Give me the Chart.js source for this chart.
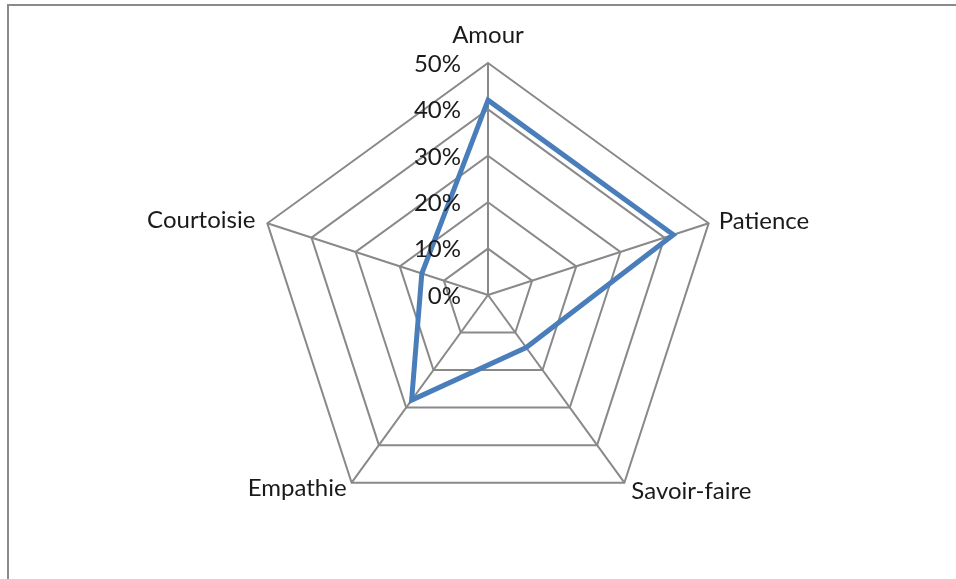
<!DOCTYPE html>
<html>
<head>
<meta charset="utf-8">
<script src="https://cdn.jsdelivr.net/npm/chart.js@4"></script>
<style>
  html,body{margin:0;padding:0;background:#fff;overflow:hidden}
  #frame{position:absolute;left:7px;top:4px;width:1200px;height:900px;border:2px solid #8a8a8a;box-sizing:border-box}
  #wrap{position:absolute;left:0;top:0;width:956px;height:579px}
</style>
</head>
<body>
<div id="frame"></div>
<div id="wrap"><canvas id="c"></canvas></div>
<script>
/* ============ data ============ */
const labels=['Amour','Patience','Savoir-faire','Empathie','Courtoisie'];
const values=[42,42,14,28,15];
const ticks=[0,10,20,30,40,50];

const C={line:'#4a7ebb',grid:'#898989',ink:'#1a1a1a'};
const FONT="Lato, 'Open Sans', sans-serif";

// label placement relative to each outer vertex: [dx, baseline dy, align]
const labelPos=[[0,-20,'center'],[10,6,'left'],[7,16,'left'],[-5,13,'right'],[-12,5,'right']];

/* tick + axis labels, Excel style */
const textPlugin={id:'excelText',afterDraw(ch){
  const s=ch.scales.r,ctx=ch.ctx;ctx.save();
  ctx.font='24px '+FONT;ctx.fillStyle=C.ink;
  ctx.textAlign='right';ctx.textBaseline='middle';
  ticks.forEach(v=>{
    const d=s.getDistanceFromCenterForValue(v);
    ctx.fillText(v+'%',s.xCenter-27,s.yCenter-d+1);
  });
  ctx.textBaseline='alphabetic';
  labels.forEach((t,i)=>{
    const p=s.getPointPosition(i,s.drawingArea),o=labelPos[i];
    ctx.textAlign=o[2];
    ctx.fillText(t,p.x+o[0],p.y+o[1]);
  });
  ctx.restore();
}};

new Chart(document.getElementById('c'),{type:'radar',
  data:{labels,datasets:[{data:values,borderColor:C.line,borderWidth:5,pointRadius:0,fill:false,tension:0}]},
  options:{responsive:true,maintainAspectRatio:false,animation:false,
    layout:{padding:{top:63,bottom:52,left:20,right:0}},
    plugins:{legend:{display:false},tooltip:{enabled:false}},
    scales:{r:{min:0,max:50,
      ticks:{display:false,stepSize:10},
      grid:{color:C.grid,lineWidth:2},
      angleLines:{color:C.grid,lineWidth:2},
      pointLabels:{display:false}}}},
  plugins:[textPlugin]
});
</script>
</body>
</html>
